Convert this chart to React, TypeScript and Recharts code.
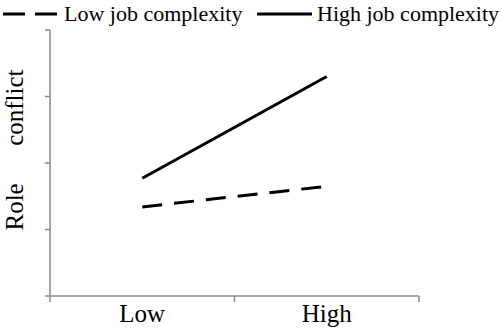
import { LineChart, Line, XAxis, YAxis } from 'recharts';

const categories = ['Low', 'High'];
const lowComplexity = [1.34, 1.65];
const highComplexity = [1.77, 3.3];
const yTicks = [0, 1, 2, 3, 4];
const xTicks = [0, 0.5, 1, 1.5, 2];
const yTitle = 'Role\u00a0\u00a0\u00a0\u00a0\u00a0\u00a0conflict';
const legendLabels = ['Low job complexity', 'High job complexity'];

const data = categories.map((c, i) => ({
    pos: i + 0.5,
    name: c,
    low: lowComplexity[i],
    high: highComplexity[i],
}));

const FONT = '"Liberation Serif", "Times New Roman", serif';

function ChartLegend() {
    const items = [
        { label: legendLabels[0], dash: '22 10', x: 3, w: 54, textX: 64 },
        { label: legendLabels[1], dash: undefined, x: 257, w: 55, textX: 317 },
    ];
    return (
        <div style={{ position: 'absolute', left: 0, top: 0, width: 502, height: 30 }}>
            {items.map((it) => (
                <div key={it.label}>
                    <svg width={it.w} height={10} style={{ position: 'absolute', left: it.x, top: 9 }}>
                        <line x1={0} y1={5} x2={it.w} y2={5} stroke="#000" strokeWidth={3} strokeDasharray={it.dash} />
                    </svg>
                    <span
                        style={{
                            position: 'absolute',
                            left: it.textX,
                            top: 1,
                            fontFamily: FONT,
                            fontSize: 22,
                            lineHeight: '25px',
                            color: '#000',
                            whiteSpace: 'nowrap',
                        }}
                    >
                        {it.label}
                    </span>
                </div>
            ))}
        </div>
    );
}

// boundary ticks get a mark, half positions get the category name
function XTick(props: any) {
    const { x, y, payload } = props;
    const v = payload.value;
    if (Number.isInteger(v)) {
        return <line x1={x} y1={y - 2} x2={x} y2={y + 4} stroke="#888" strokeWidth={1.5} />;
    }
    return (
        <text x={x} y={y + 24} textAnchor="middle" fill="#000" fontSize={25} fontFamily={FONT}>
            {categories[Math.floor(v)]}
        </text>
    );
}

function YTitle(props: any) {
    const { viewBox } = props;
    const cx = viewBox.x + 23;
    const cy = 150;
    return (
        <text
            x={cx}
            y={cy}
            transform={`rotate(-90, ${cx}, ${cy})`}
            textAnchor="middle"
            fill="#000"
            fontSize={25}
            fontFamily={FONT}
        >
            {yTitle}
        </text>
    );
}

export default function App() {
    return (
        <div style={{ position: 'absolute', left: 0, top: 0, width: 502, height: 333, background: '#fff' }}>
            <LineChart width={502} height={333} data={data} margin={{ top: 30, right: 83, left: 0, bottom: 0 }}>
                <XAxis
                    dataKey="pos"
                    type="number"
                    domain={[0, 2]}
                    ticks={xTicks}
                    interval={0}
                    tick={<XTick />}
                    tickLine={false}
                    stroke="#888"
                    strokeWidth={1.5}
                    tickSize={2}
                    tickMargin={0}
                    height={37}
                />
                <YAxis
                    domain={[0, 4]}
                    ticks={yTicks}
                    tickFormatter={() => ''}
                    stroke="#888"
                    strokeWidth={1.5}
                    tickSize={5}
                    width={50}
                    label={<YTitle />}
                />
                <Line dataKey="low" stroke="#000" strokeWidth={3} strokeDasharray="20 12" dot={false} isAnimationActive={false} />
                <Line dataKey="high" stroke="#000" strokeWidth={3} dot={false} isAnimationActive={false} />
            </LineChart>
            <ChartLegend />
        </div>
    );
}
